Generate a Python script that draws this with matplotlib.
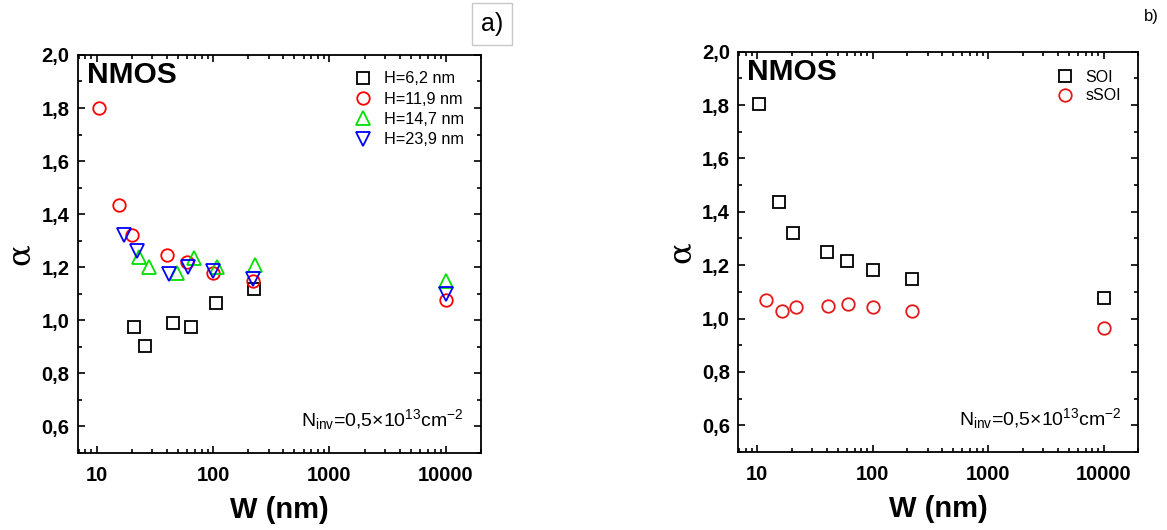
import matplotlib
matplotlib.use("Agg")
import matplotlib.pyplot as plt
from matplotlib.ticker import FixedLocator, FuncFormatter, LogLocator, NullFormatter, MultipleLocator

plt.rcParams['font.family'] = ['Liberation Sans', 'DejaVu Sans']
plt.rcParams['mathtext.default'] = 'regular'

# ---- data: panel a) ----
W_H62 = [21, 26, 45, 65, 105, 225]
a_H62 = [0.973, 0.904, 0.988, 0.976, 1.066, 1.117]
W_H119 = [10.4, 15.4, 20, 40, 60, 100, 220, 10000]
a_H119 = [1.80, 1.435, 1.32, 1.245, 1.22, 1.18, 1.15, 1.076]
W_H147 = [23, 28, 49, 68, 107, 228, 10000]
a_H147 = [1.24, 1.20, 1.18, 1.235, 1.20, 1.21, 1.15]
W_H239 = [17, 22, 42, 61, 100, 221, 10000]
a_H239 = [1.322, 1.26, 1.176, 1.20, 1.185, 1.155, 1.10]
labels_a = ["H=6,2 nm", "H=11,9 nm", "H=14,7 nm", "H=23,9 nm"]

# ---- data: panel b) ----
W_SOI = [10.4, 15.4, 20.3, 40.3, 60, 100, 220, 10000]
a_SOI = [1.805, 1.437, 1.32, 1.248, 1.215, 1.183, 1.148, 1.076]
W_sSOI = [11.9, 16.6, 21.8, 41.5, 61.4, 100, 220, 10000]
a_sSOI = [1.07, 1.029, 1.045, 1.048, 1.054, 1.045, 1.029, 0.964]
labels_b = ["SOI", "sSOI"]

x_ticks = [10, 100, 1000, 10000]
y_ticks = [0.6, 0.8, 1.0, 1.2, 1.4, 1.6, 1.8, 2.0]

fig = plt.figure(figsize=(11.67, 5.30), dpi=100)
axA = fig.add_axes([0.0668, 0.1453, 0.3453, 0.751])
axB = fig.add_axes([0.6327, 0.1472, 0.3428, 0.7553])


def style(ax):
    ax.set_xscale('log')
    ax.set_xlim(6.9, 20000)
    ax.set_ylim(0.5, 2.0)
    ax.xaxis.set_major_locator(FixedLocator(x_ticks))
    ax.xaxis.set_major_formatter(FuncFormatter(lambda v, p: f"{int(round(v))}"))
    ax.xaxis.set_minor_locator(LogLocator(base=10, subs=range(2, 10), numticks=20))
    ax.xaxis.set_minor_formatter(NullFormatter())
    ax.yaxis.set_major_locator(FixedLocator(y_ticks))
    ax.yaxis.set_major_formatter(FuncFormatter(lambda v, p: f"{v:.1f}".replace('.', ',')))
    ax.yaxis.set_minor_locator(MultipleLocator(0.1))
    ax.tick_params(which='both', direction='in', top=True, right=True, width=1.2)
    ax.tick_params(which='major', length=5, labelsize=14.5)
    ax.tick_params(which='minor', length=3)
    ax.tick_params(axis='x', which='major', pad=9.5)
    ax.tick_params(axis='y', which='major', pad=6)
    for lab in ax.get_xticklabels() + ax.get_yticklabels():
        lab.set_fontweight('bold')
    for s in ax.spines.values():
        s.set_linewidth(1.3)
    ax.set_xlabel("W (nm)", fontsize=21, fontweight='bold', labelpad=8)
    ax.set_ylabel("α", fontsize=23, family='DejaVu Serif', labelpad=4)
    ax.text(0.022, 0.95, "NMOS", transform=ax.transAxes, fontsize=21.5,
            fontweight='bold', va='center', ha='left')
    ax.text(0.958, 0.083, r"N$_{inv}$=0,5×10$^{13}$cm$^{-2}$", transform=ax.transAxes,
            fontsize=14, ha='right', va='center')


style(axA)
style(axB)

mk = dict(linestyle='none', markerfacecolor='none', markeredgewidth=1.3)
axA.plot(W_H62, a_H62, marker='s', ms=8, color='black', label=labels_a[0], **mk)
axA.plot(W_H119, a_H119, marker='o', ms=9, color='#ff0000', label=labels_a[1], **mk)
axA.plot(W_H147, a_H147, marker='^', ms=10, color='#00e000', label=labels_a[2], **mk)
axA.plot(W_H239, a_H239, marker='v', ms=10, color='#0000ff', label=labels_a[3], **mk)
axA.legend(loc='upper left', bbox_to_anchor=(0.672, 0.975), frameon=False, fontsize=11.7,
           handlelength=1.0, handletextpad=0.8, labelspacing=0.33, borderaxespad=0)

axB.plot(W_SOI, a_SOI, marker='s', ms=8, color='black', label=labels_b[0], **mk)
axB.plot(W_sSOI, a_sSOI, marker='o', ms=9, color='#e41a1a', label=labels_b[1], **mk)
axB.legend(loc='upper left', bbox_to_anchor=(0.78, 0.97), frameon=False, fontsize=11.5,
           handlelength=1.0, handletextpad=0.8, labelspacing=0.2, borderaxespad=0)

fig.text(492 / 1167, 1 - 24 / 530, "a)", fontsize=18, ha='center', va='center',
         bbox=dict(boxstyle='square,pad=0.35', facecolor='white', edgecolor='#c8c8c8', linewidth=1))
fig.text(1151 / 1167, 1 - 17 / 530, "b)", fontsize=12, ha='center', va='center')

fig.savefig("out.png", dpi=100)
